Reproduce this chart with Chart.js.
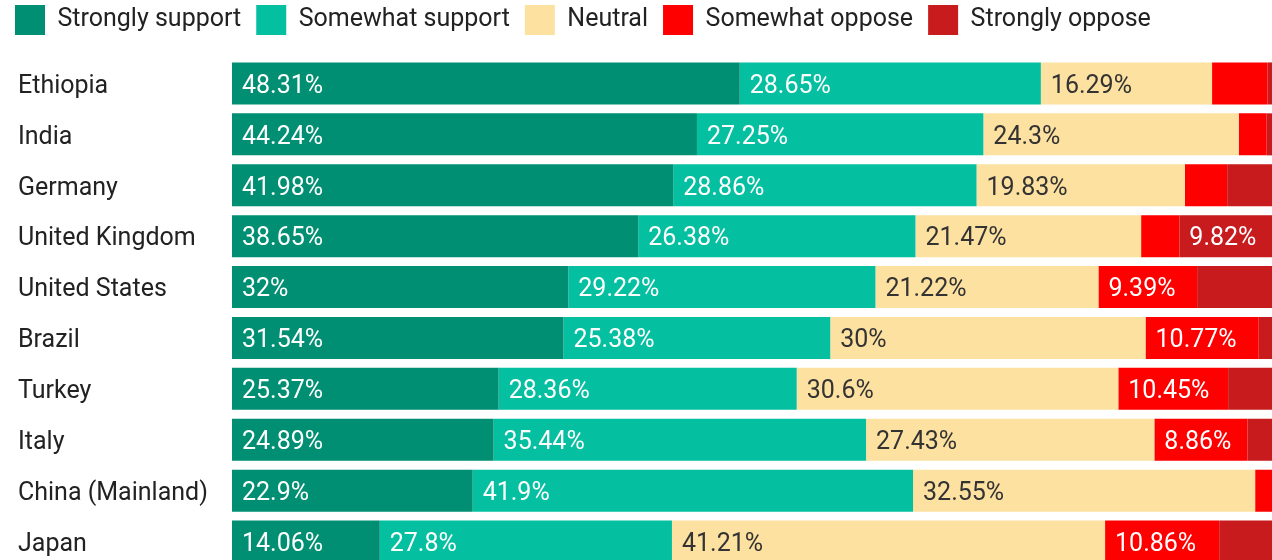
<!DOCTYPE html>
<html>
<head>
<meta charset="utf-8">
<script src="https://cdn.jsdelivr.net/npm/chart.js@4"></script>
<style>
  html, body { margin: 0; padding: 0; background: #fff; overflow: hidden; width: 1272px; height: 560px; }
  #wrap { position: absolute; left: 0; top: -10px; width: 1283px; height: 592px; }
</style>
</head>
<body>
<div id="wrap"><canvas id="supportChart"></canvas></div>
<script>
// Survey answers per country, percent of respondents
const countries = ['Ethiopia', 'India', 'Germany', 'United Kingdom', 'United States', 'Brazil', 'Turkey', 'Italy', 'China (Mainland)', 'Japan'];
const stronglySupport = [48.31, 44.24, 41.98, 38.65, 32, 31.54, 25.37, 24.89, 22.9, 14.06];
const somewhatSupport = [28.65, 27.25, 28.86, 26.38, 29.22, 25.38, 28.36, 35.44, 41.9, 27.8];
const neutral = [16.29, 24.3, 19.83, 21.47, 21.22, 30, 30.6, 27.43, 32.55, 41.21];
const somewhatOppose = [5.29, 2.66, 4.02, 3.64, 9.39, 10.77, 10.45, 8.86, 2.0, 10.86];
const stronglyOppose = [1.46, 1.55, 5.31, 9.82, 8.17, 2.31, 5.22, 3.38, 0.65, 6.07];

const FONT = 'Roboto';

// make room under the legend so the bars start where they should
const legendSpacer = {
    id: 'legendSpacer',
    beforeInit(chart) {
        if (!chart.legend) return;
        const fit = chart.legend.fit;
        chart.legend.fit = function () {
            fit.call(this);
            this.height = 68;
        };
    }
};

// country names sit a bit in from the left edge
const labelShift = {
    id: 'labelShift',
    afterLayout(chart) {
        const y = chart.scales.y;
        y.left = 18;
        y._labelItemsCache = null;
    }
};

// percentage text inside the wider segments
const segmentLabels = {
    id: 'segmentLabels',
    afterDatasetsDraw(chart) {
        const ctx = chart.ctx;
        ctx.save();
        ctx.font = '25px ' + FONT;
        ctx.textBaseline = 'middle';
        ctx.textAlign = 'left';
        chart.data.datasets.forEach((ds, i) => {
            const meta = chart.getDatasetMeta(i);
            meta.data.forEach((bar, j) => {
                const v = ds.data[j];
                if (v < 8.5) return;
                const left = Math.min(bar.x, bar.base);
                ctx.fillStyle = ds.labelColor;
                ctx.fillText(v + '%', left + 10, bar.y + 3);
            });
        });
        ctx.restore();
    }
};

new Chart(document.getElementById('supportChart'), {
    type: 'bar',
    data: {
        labels: countries,
        datasets: [
            { label: 'Strongly support', data: stronglySupport, backgroundColor: '#008F72', labelColor: '#ffffff' },
            { label: 'Somewhat support', data: somewhatSupport, backgroundColor: '#04BFA0', labelColor: '#ffffff' },
            { label: 'Neutral', data: neutral, backgroundColor: '#FDE1A0', labelColor: '#333333' },
            { label: 'Somewhat oppose', data: somewhatOppose, backgroundColor: '#FF0000', labelColor: '#ffffff' },
            { label: 'Strongly oppose', data: stronglyOppose, backgroundColor: '#C71B1E', labelColor: '#ffffff' }
        ]
    },
    options: {
        indexAxis: 'y',
        responsive: true,
        maintainAspectRatio: false,
        animation: false,
        devicePixelRatio: 1,
        layout: { padding: { left: 0, right: 0, top: 0, bottom: 0 } },
        datasets: {
            bar: { categoryPercentage: 1, barPercentage: 0.826, borderWidth: 0 }
        },
        plugins: {
            legend: {
                position: 'top',
                align: 'start',
                labels: {
                    boxWidth: 30,
                    boxHeight: 30,
                    padding: 15,
                    color: '#222',
                    font: { family: FONT, size: 25 }
                }
            },
            tooltip: { enabled: false }
        },
        scales: {
            x: {
                stacked: true,
                min: 0,
                max: 100,
                display: false
            },
            y: {
                stacked: true,
                grid: { display: false },
                border: { display: false },
                ticks: {
                    crossAlign: 'far',
                    padding: 0,
                    labelOffset: 3,
                    color: '#222',
                    font: { family: FONT, size: 25 }
                },
                afterFit(scale) {
                    scale.width = 232;
                }
            }
        }
    },
    plugins: [legendSpacer, labelShift, segmentLabels]
});
</script>
</body>
</html>
